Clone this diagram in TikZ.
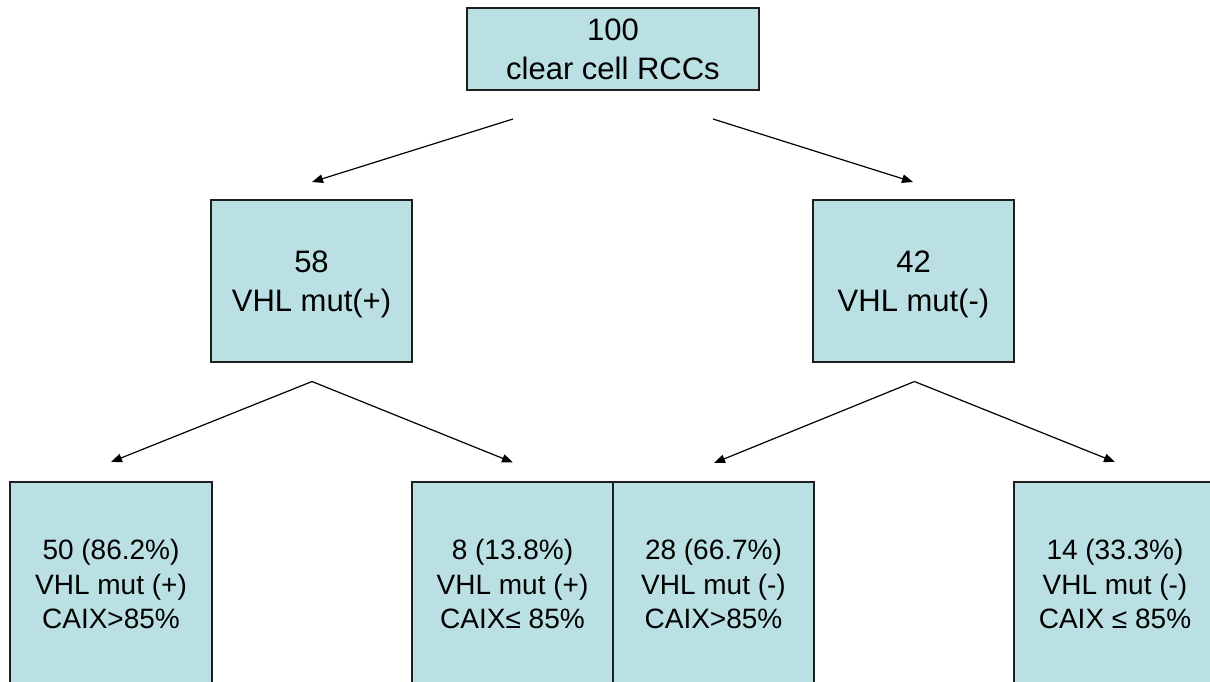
\documentclass[tikz,border=0pt]{standalone}
\usepackage{fontspec}
\setmainfont{Liberation Sans}
\usetikzlibrary{arrows.meta}
\definecolor{boxfill}{RGB}{186,224,227}
\definecolor{boxline}{RGB}{30,30,30}
\begin{document}
\begin{tikzpicture}[x=1pt,y=-1pt,
  box/.style={draw=boxline, line width=1.4pt, fill=boxfill, inner sep=0pt, align=center,
    text depth=0pt, font=\fontsize{31}{38.5}\selectfont},
  lowbox/.style={box, font=\fontsize{28}{34.7}\selectfont},
  conn/.style={line width=1.2pt, -{Triangle[length=11pt,width=8.5pt]}}]
\useasboundingbox (0,0) rectangle (1210,681);
\clip (0,0) rectangle (1210,681);
\fill[white] (0,0) rectangle (1210,681);
% boxes
\node[box, minimum width=292pt, minimum height=82pt] (top) at (613,49) {100\\clear cell RCCs};
\node[box, minimum width=201pt, minimum height=162pt] (m1) at (311.5,281) {58\\VHL mut(+)};
\node[box, minimum width=201pt, minimum height=162pt] (m2) at (913.5,281) {42\\VHL mut(-)};
\node[lowbox, minimum width=202pt, minimum height=204pt] (b1) at (111,584) {50 (86.2\%)\\VHL mut (+)\\CAIX>85\%};
\node[lowbox, minimum width=201pt, minimum height=204pt] (b2) at (512.5,584) {8 (13.8\%)\\VHL mut (+)\\CAIX≤ 85\%};
\node[lowbox, minimum width=201pt, minimum height=204pt] (b3) at (713.5,584) {28 (66.7\%)\\VHL mut (-)\\CAIX>85\%};
\node[lowbox, minimum width=202pt, minimum height=204pt] (b4) at (1115,584) {14 (33.3\%)\\ VHL mut (-)\\CAIX ≤ 85\%};
% connector end points
\coordinate (t1s) at (513,119);
\coordinate (t1e) at (312,182);
\coordinate (t2s) at (713,119);
\coordinate (t2e) at (913,182);
\coordinate (j1) at (312,381.5);
\coordinate (j1a) at (111,462);
\coordinate (j1b) at (513,462.5);
\coordinate (j2) at (914.5,381.5);
\coordinate (j2a) at (714,463);
\coordinate (j2b) at (1115,462);
% connectors
\draw[conn] (t1s) -- (t1e);
\draw[conn] (t2s) -- (t2e);
\draw[conn] (j1) -- (j1a);
\draw[conn] (j1) -- (j1b);
\draw[conn] (j2) -- (j2a);
\draw[conn] (j2) -- (j2b);
\end{tikzpicture}
\end{document}
